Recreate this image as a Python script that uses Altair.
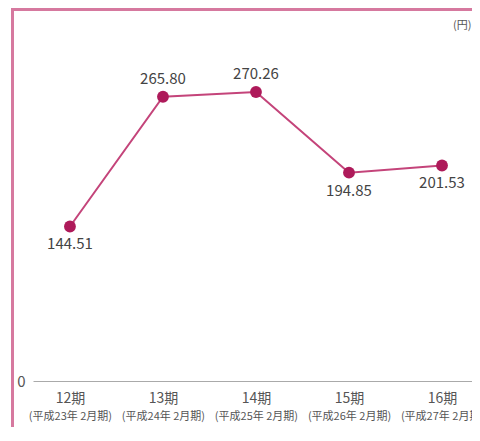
import altair as alt
import pandas as pd

periods = ["12期", "13期", "14期", "15期", "16期"]
sub_labels = ["(平成23年 2月期)", "(平成24年 2月期)", "(平成25年 2月期)",
              "(平成26年 2月期)", "(平成27年 2月期)"]
values = [144.51, 265.80, 270.26, 194.85, 201.53]
labels_above = ["13期", "14期"]

df = pd.DataFrame({"period": periods, "value": values})

FONT = "Noto Sans CJK JP"
W, H = 439, 370
FRAME = "#d6799f"

sub_expr = "[" + ",".join("'%s'" % s for s in sub_labels) + "][indexof([" + \
    ",".join("'%s'" % p for p in periods) + "], datum.value)]"

xscale = alt.Scale(type="point", padding=0.36, align=0.552)

x_main = alt.X("period:N", sort=periods, scale=xscale, title=None,
               axis=alt.Axis(orient="bottom", labelAngle=0, ticks=False, domain=True,
                             domainColor="#aaaaaa", domainWidth=1, labelFont=FONT,
                             labelFontSize=14, labelColor="#555555", labelPadding=10,
                             labelOverlap=False, grid=False))
x_sub = alt.X("period:N", sort=periods, scale=xscale, title=None,
              axis=alt.Axis(orient="bottom", labelAngle=0, ticks=False, domain=False,
                            labelFont=FONT, labelFontSize=11, labelColor="#555555",
                            labelPadding=29, labelOverlap=False, grid=False,
                            labelExpr=sub_expr))
x_none = alt.X("period:N", sort=periods, scale=xscale, axis=None)

y = alt.Y("value:Q", scale=alt.Scale(domain=[0, 346], nice=False),
          axis=alt.Axis(values=[0], grid=False, domain=False, ticks=False,
                        labelFont=FONT, labelFontSize=15, labelColor="#555555",
                        labelPadding=8, title="(円)", titleAngle=0, titleAlign="right",
                        titleBaseline="middle", titleX=438, titleY=14, titleFont=FONT,
                        titleFontSize=11, titleFontWeight="normal", titleColor="#555555"))

base = alt.Chart(df)

line = base.mark_line(color="#c4447a", strokeWidth=2).encode(x=x_main, y=y)
pts = base.mark_circle(color="#ae1a5a", size=140, opacity=1).encode(x=x_none, y=y)
txt_up = base.mark_text(dy=-18, fontSize=15, color="#444444", font=FONT,
                        baseline="middle").encode(
    x=x_none, y=y, text=alt.Text("value:Q", format=".2f")
).transform_filter(alt.FieldOneOfPredicate(field="period", oneOf=labels_above))
txt_dn = base.mark_text(dy=18, fontSize=15, color="#444444", font=FONT,
                        baseline="middle").encode(
    x=x_none, y=y, text=alt.Text("value:Q", format=".2f")
).transform_filter(~alt.FieldOneOfPredicate(field="period", oneOf=labels_above))
sub = base.mark_point(opacity=0).encode(x=x_sub, y=y)

frame_data = alt.Data(values=[{"k": 1}])
frame_v = alt.Chart(frame_data).mark_rule(color=FRAME, strokeWidth=3, clip=False).encode(
    x=alt.value(-20.5), y=alt.value(-1.5), y2=alt.value(430))
frame_h = alt.Chart(frame_data).mark_rule(color=FRAME, strokeWidth=3, clip=False).encode(
    x=alt.value(-22), x2=alt.value(445), y=alt.value(-1.5))

chart = alt.layer(line, pts, txt_up, txt_dn, sub, frame_v, frame_h).resolve_axis(
    x="independent"
).properties(
    width=W, height=H,
    autosize=alt.AutoSizeParams(type="none"),
    padding={"left": 25, "top": 3, "right": 0, "bottom": 46},
).configure_view(stroke=None)

chart.save("out.html", embed_options={"renderer": "svg", "actions": False})
